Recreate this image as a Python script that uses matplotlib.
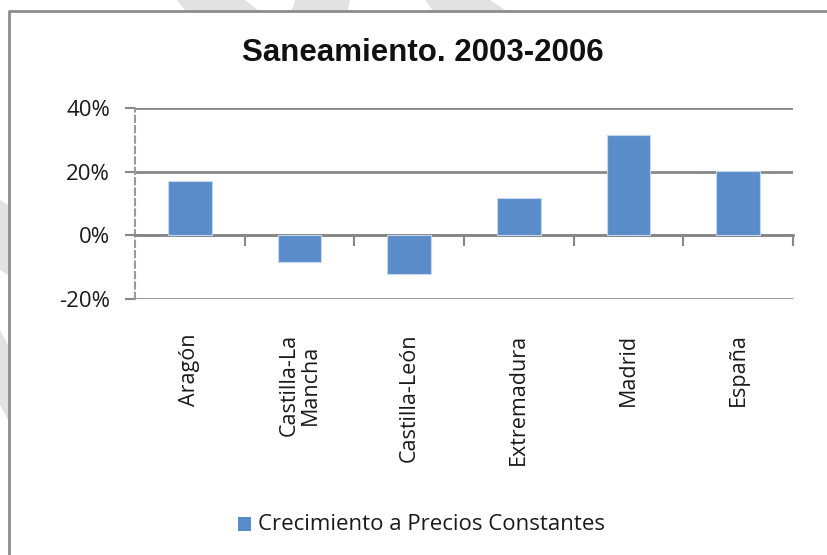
import matplotlib.pyplot as plt
from matplotlib.patches import Rectangle, Polygon
from matplotlib.lines import Line2D
from matplotlib.ticker import FixedLocator, PercentFormatter
import matplotlib.transforms as mtransforms

plt.rcParams['font.family'] = ['Open Sans', 'DejaVu Sans']
plt.rcParams['axes.unicode_minus'] = False

regions = ['Aragón', 'Castilla-La\nMancha', 'Castilla-León', 'Extremadura', 'Madrid', 'España']
growth = [17.0, -8.5, -12.2, 11.8, 31.6, 20.1]
series_name = 'Crecimiento a Precios Constantes'
title = 'Saneamiento. 2003-2006'

bar_color = '#5B8CCA'
grid_color = '#878787'
text_color = '#1a1a1a'

fig = plt.figure(figsize=(8.28, 5.55), dpi=100)
W, H = 828, 555

# faint background marks behind the chart frame
marks = [
    [(177, 0), (245, 0), (258, 10), (185, 10)],
    [(295, 0), (350, 0), (348, 10), (292, 10)],
    [(425, 0), (490, 0), (505, 10), (432, 10)],
    [(0, 200), (8, 205), (8, 275), (0, 270)],
    [(0, 330), (8, 345), (8, 420), (0, 405)],
]
for pts in marks:
    fig.patches.append(Polygon([(x / W, 1 - y / H) for x, y in pts], closed=True,
                               transform=fig.transFigure, facecolor='#e2e2e2',
                               edgecolor='none', zorder=0))

# chart frame: only the top and left edges fall inside the image
fig.lines.append(Line2D([9 / W, 9 / W, 1.0], [0.0, 1 - 11 / H, 1 - 11 / H],
                        transform=fig.transFigure, color='#8c8c8c', linewidth=2))

ax = fig.add_axes([135 / W, 1 - 299 / H, (793 - 135) / W, (299 - 108) / H])
x = range(len(regions))
ax.bar(x, growth, width=0.4, color=bar_color, edgecolor='#c5d6ec', linewidth=0.8, zorder=3)

ax.set_xlim(-0.5, len(regions) - 0.5)
ax.set_ylim(-20, 40)
ax.yaxis.set_major_locator(FixedLocator([-20, 0, 20, 40]))
ax.yaxis.set_major_formatter(PercentFormatter(decimals=0))
ax.yaxis.grid(True, color=grid_color, linewidth=2, zorder=1)
ax.tick_params(axis='y', length=7, width=1.5, color=grid_color, labelsize=16,
               labelcolor=text_color, pad=11)

for side in ['top', 'right']:
    ax.spines[side].set_visible(False)
ax.spines['left'].set_linestyle((0, (3, 2)))
ax.spines['left'].set_color('#9a9a9a')
ax.spines['left'].set_linewidth(1.5)
ax.spines['bottom'].set_position(('data', 0))
ax.spines['bottom'].set_color(grid_color)
ax.spines['bottom'].set_linewidth(2)

# category boundary ticks on the zero line
ax.set_xticks([i + 0.5 for i in x])
ax.set_xticklabels([])
ax.tick_params(axis='x', length=8, width=1.5, color=grid_color, direction='out')

trans = mtransforms.blended_transform_factory(ax.transData, ax.transAxes)
for i, name in enumerate(regions):
    ax.text(i, -0.18, name, transform=trans, rotation=90, ha='center', va='top',
            multialignment='center', fontsize=15.5, color=text_color, linespacing=1.0)

fig.text(423 / W, 1 - 53 / H, title, ha='center', va='center', fontsize=22.5,
         fontweight='bold', color='#111111', family=['Liberation Sans', 'DejaVu Sans'])

# legend entry
fig.patches.append(Rectangle((238 / W, 1 - 531 / H), 13 / W, 14 / H, transform=fig.transFigure,
                             facecolor=bar_color, edgecolor='none'))
fig.text(258 / W, 1 - 524 / H, series_name, ha='left', va='center', fontsize=16,
         color=text_color)

fig.savefig('out.png', dpi=100)
